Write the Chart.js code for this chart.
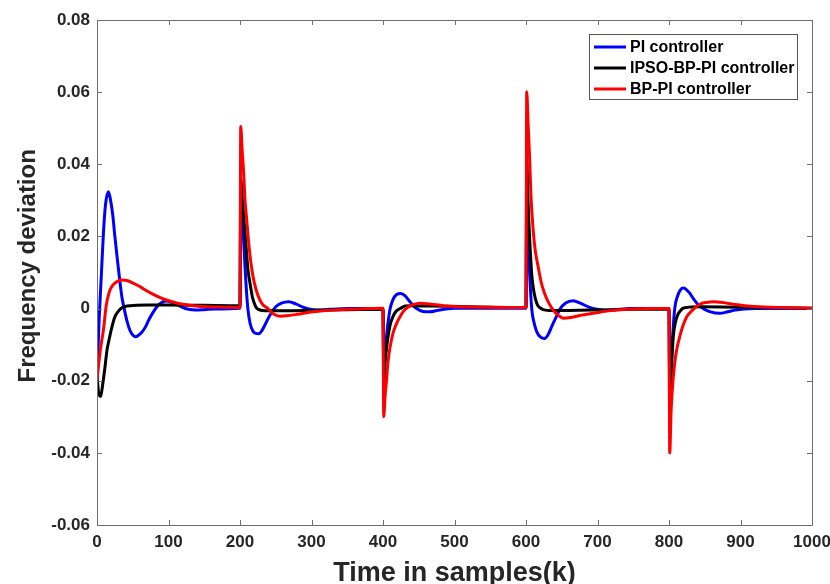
<!DOCTYPE html>
<html>
<head>
<meta charset="utf-8">
<script src="https://cdn.jsdelivr.net/npm/chart.js@4/dist/chart.umd.min.js"></script>
<style>
  html, body { margin: 0; padding: 0; background: #fff; }
  #wrap { width: 830px; height: 584px; }
</style>
</head>
<body>
<div id="wrap"><canvas id="c" width="830" height="584"></canvas></div>
<script>
// ---- data ----
const seriesNames = ['PI controller', 'IPSO-BP-PI controller', 'BP-PI controller'];
const seriesColors = ['#0000ff', '#000000', '#ff0000'];

const xTicks = [0, 100, 200, 300, 400, 500, 600, 700, 800, 900, 1000];
const xTickLabels = ['0', '100', '200', '300', '400', '500', '600', '700', '800', '900', '1000'];
const yTicks = [-0.06, -0.04, -0.02, 0, 0.02, 0.04, 0.06, 0.08];
const yTickLabels = ['-0.06', '-0.04', '-0.02', '0', '0.02', '0.04', '0.06', '0.08'];

const piX = [0, 3, 6, 9, 12, 16, 19, 22, 25, 28, 32, 35, 38, 42, 46, 50, 54, 58, 63, 68, 72, 78, 86, 97, 108, 118, 128, 138, 150, 165, 200,
  201, 203, 205, 207, 209, 211, 214, 218, 222, 226, 230, 235, 240, 245, 250, 258, 268, 278, 288, 298, 310, 325, 350, 400,
  401, 403, 405, 407, 410, 414, 419, 425, 431, 438, 447, 456, 466, 476, 488, 500, 540, 600,
  601, 603, 605, 608, 612, 617, 622, 626, 631, 637, 643, 648, 655, 666, 676, 688, 699, 712, 725, 745, 800,
  801, 803, 805, 808, 812, 816, 820, 828, 835, 842, 848, 858, 871, 882, 893, 905, 920, 1000];
const piY = [-0.019, -0.003, 0.009, 0.021, 0.029, 0.0324, 0.030, 0.026, 0.020, 0.0145, 0.0075, 0.003, 0, -0.0035, -0.006, -0.0073, -0.0078, -0.0074, -0.0065, -0.005, -0.0033, -0.0012, 0.001, 0.0021, 0.0015, 0.0005, -0.0002, -0.0004, -0.0003, -0.0001, 0.0001,
  0.032, 0.027, 0.019, 0.0116, 0.005, 0, -0.004, -0.0062, -0.0069, -0.007, -0.0063, -0.0045, -0.0025, -0.0008, 0.0005, 0.0015, 0.0019, 0.0013, 0.0004, -0.0002, -0.0004, -0.0002, 0, 0,
  -0.015, -0.012, -0.0075, -0.004, 0, 0.0025, 0.0039, 0.0042, 0.0035, 0.0018, 0, -0.0008, -0.0009, -0.0005, -0.0001, 0.0001, 0.0001, 0.0001,
  0.034, 0.020, 0.010, 0, -0.0045, -0.0072, -0.0081, -0.0083, -0.0072, -0.0045, -0.002, 0, 0.0015, 0.0022, 0.0015, 0.0004, -0.0002, -0.0005, -0.0003, 0, 0,
  -0.024, -0.016, -0.008, 0, 0.0035, 0.0052, 0.0057, 0.0045, 0.0025, 0.0008, 0, -0.0009, -0.0013, -0.0009, -0.0004, -0.0001, 0, 0];

const ipsoX = [0, 2, 5, 8, 11, 14, 17, 21, 25, 30, 35, 42, 55, 70, 100, 150, 200,
  201, 203, 205, 207, 209, 211, 214, 217, 220, 223, 228, 235, 260, 300, 350, 400,
  401, 403, 405, 407, 410, 414, 418, 424, 431, 440, 470, 520, 600,
  601, 602, 603, 604, 606, 608, 610, 613, 616, 619, 624, 632, 660, 700, 750, 800,
  801, 802, 804, 806, 809, 812, 816, 820, 829, 845, 900, 950, 1000];
const ipsoY = [-0.018, -0.023, -0.0244, -0.021, -0.0165, -0.0115, -0.0085, -0.005, -0.0023, -0.0007, 0.0002, 0.0007, 0.0009, 0.001, 0.001, 0.0009, 0.0008,
  0.036, 0.031, 0.026, 0.021, 0.016, 0.011, 0.007, 0.0035, 0.0015, 0.0002, -0.0004, -0.0006, -0.0006, -0.0005, -0.0003, -0.0002,
  -0.021, -0.015, -0.011, -0.0078, -0.0045, -0.0022, -0.0008, 0, 0.0007, 0.0008, 0.0007, 0.0005, 0.0003,
  0.042, 0.036, 0.029, 0.024, 0.016, 0.0095, 0.006, 0.0028, 0.001, 0.0003, -0.0003, -0.0005, -0.0005, -0.0004, -0.0002, -0.0001,
  -0.031, -0.025, -0.0145, -0.0078, -0.0038, -0.0018, -0.0006, 0.0001, 0.0004, 0.0005, 0.0004, 0.0002, 0.0001];

const bpX = [0, 2, 5, 9, 13, 17, 21, 27, 35, 43, 52, 60, 67, 78, 90, 105, 120, 135, 155, 180, 200,
  201, 203, 205, 207, 209, 212, 216, 220, 225, 231, 239, 247, 256, 265, 280, 302, 325, 350, 380, 400,
  401, 403, 405, 407, 410, 414, 419, 424, 428, 434, 442, 452, 465, 478, 489, 510, 536, 570, 600,
  601, 603, 605, 607, 610, 613, 617, 621, 626, 632, 638, 645, 652, 662, 675, 685, 700, 722, 750, 775, 800,
  801, 803, 806, 809, 812, 815, 820, 825, 829, 835, 843, 852, 862, 875, 890, 910, 940, 970, 1000];
const bpY = [-0.0198, -0.016, -0.011, -0.0059, 0.001, 0.0045, 0.0062, 0.0074, 0.0079, 0.0077, 0.0069, 0.0061, 0.0052, 0.004, 0.0029, 0.0019, 0.0012, 0.0008, 0.0005, 0.0004, 0.0003,
  0.0505, 0.044, 0.038, 0.030, 0.0255, 0.0185, 0.0116, 0.0072, 0.0037, 0.0013, 0, -0.0015, -0.0021, -0.002, -0.0016, -0.0009, -0.0005, -0.0002, 0, 0.0001,
  -0.030, -0.024, -0.0198, -0.0148, -0.0106, -0.0068, -0.0041, -0.0022, -0.0009, 0.0003, 0.0011, 0.0015, 0.0013, 0.001, 0.0007, 0.0005, 0.0004, 0.0003, 0.0003,
  0.0601, 0.051, 0.042, 0.031, 0.0218, 0.016, 0.0116, 0.0075, 0.0042, 0.0015, -0.0004, -0.0018, -0.0027, -0.0025, -0.0019, -0.0016, -0.0011, -0.0005, -0.0001, 0, 0,
  -0.040, -0.028, -0.019, -0.0135, -0.0102, -0.0078, -0.0045, -0.0022, -0.0012, 0, 0.0012, 0.0017, 0.0019, 0.0017, 0.0012, 0.0007, 0.0004, 0.0002, 0.0001];

// ---- build ----
const zip = (xs, ys) => xs.map((x, i) => ({ x: x, y: ys[i] }));
const seriesX = [piX, ipsoX, bpX];
const seriesY = [piY, ipsoY, bpY];
const FONT = "'Liberation Sans', Arial, sans-serif";
const AXIS_COLOR = '#6e6e6e';
const TEXT_COLOR = '#262626';

const datasets = seriesNames.map((name, i) => ({
  label: name,
  data: zip(seriesX[i], seriesY[i]),
  borderColor: seriesColors[i],
  backgroundColor: seriesColors[i],
  borderWidth: 3,
  pointRadius: 0,
  fill: false,
  cubicInterpolationMode: 'monotone',
  order: 3 - i
}));

const framePlugin = {
  id: 'frame',
  afterDatasetsDraw(chart) {
    const { ctx, chartArea: a, scales: { x, y } } = chart;
    ctx.save();
    ctx.strokeStyle = AXIS_COLOR;
    ctx.lineWidth = 1;
    ctx.beginPath();
    ctx.rect(Math.round(a.left) + 0.5, Math.round(a.top) + 0.5, Math.round(a.right - a.left), Math.round(a.bottom - a.top));
    ctx.stroke();
    const L = 5;
    ctx.beginPath();
    xTicks.forEach(v => {
      const px = Math.round(x.getPixelForValue(v)) + 0.5;
      ctx.moveTo(px, a.bottom); ctx.lineTo(px, a.bottom - L);
      ctx.moveTo(px, a.top); ctx.lineTo(px, a.top + L);
    });
    yTicks.forEach(v => {
      const py = Math.round(y.getPixelForValue(v)) + 0.5;
      ctx.moveTo(a.left, py); ctx.lineTo(a.left + L, py);
      ctx.moveTo(a.right, py); ctx.lineTo(a.right - L, py);
    });
    ctx.stroke();
    ctx.restore();
  },
  afterDraw(chart) {
    const { ctx } = chart;
    const bx = 589.5, by = 34.5, bw = 208, bh = 65;
    ctx.save();
    ctx.fillStyle = '#ffffff';
    ctx.fillRect(bx, by, bw, bh);
    ctx.strokeStyle = '#555555';
    ctx.lineWidth = 1;
    ctx.strokeRect(bx, by, bw, bh);
    ctx.font = 'bold 16px ' + FONT;
    ctx.textBaseline = 'middle';
    ctx.textAlign = 'left';
    const rows = [47, 68, 89];
    chart.data.datasets.forEach((ds, i) => {
      ctx.strokeStyle = ds.borderColor;
      ctx.lineWidth = 3;
      ctx.beginPath();
      ctx.moveTo(594, rows[i]);
      ctx.lineTo(626, rows[i]);
      ctx.stroke();
      ctx.fillStyle = '#000000';
      ctx.fillText(ds.label, 630, rows[i] + 1);
    });
    ctx.restore();
  }
};

new Chart(document.getElementById('c'), {
  type: 'line',
  data: { datasets: datasets },
  options: {
    responsive: false,
    animation: false,
    devicePixelRatio: 1,
    parsing: true,
    layout: { padding: { left: 0, right: 18, top: 20, bottom: 0 } },
    plugins: { legend: { display: false }, tooltip: { enabled: false } },
    scales: {
      x: {
        type: 'linear',
        min: 0, max: 1000,
        afterBuildTicks: s => { s.ticks = xTicks.map(v => ({ value: v })); },
        afterFit: s => { s.height = 59; s.paddingLeft = 0; s.paddingRight = 0; },
        grid: { display: false, drawTicks: false },
        border: { display: false },
        ticks: {
          color: TEXT_COLOR,
          font: { family: FONT, size: 17, weight: 'bold' },
          padding: 7,
          maxRotation: 0,
          autoSkip: false,
          callback: (v, i) => xTickLabels[i]
        },
        title: {
          display: true,
          text: 'Time in samples(k)',
          color: TEXT_COLOR,
          font: { family: FONT, size: 27, weight: 'bold', lineHeight: 1 },
          padding: { top: 0, bottom: -3 }
        }
      },
      y: {
        type: 'linear',
        min: -0.06, max: 0.08,
        afterBuildTicks: s => { s.ticks = yTicks.map(v => ({ value: v })); },
        afterFit: s => { s.width = 97; s.paddingTop = 0; s.paddingBottom = 0; },
        grid: { display: false, drawTicks: false },
        border: { display: false },
        ticks: {
          color: TEXT_COLOR,
          font: { family: FONT, size: 17, weight: 'bold' },
          padding: 7,
          autoSkip: false,
          callback: (v, i) => yTickLabels[i]
        },
        title: {
          display: true,
          text: '  Frequency deviation',
          color: TEXT_COLOR,
          font: { family: FONT, size: 24, weight: 'bold', lineHeight: 1 },
          padding: { top: 16, bottom: 0 }
        }
      }
    }
  },
  plugins: [framePlugin]
});
</script>
</body>
</html>
